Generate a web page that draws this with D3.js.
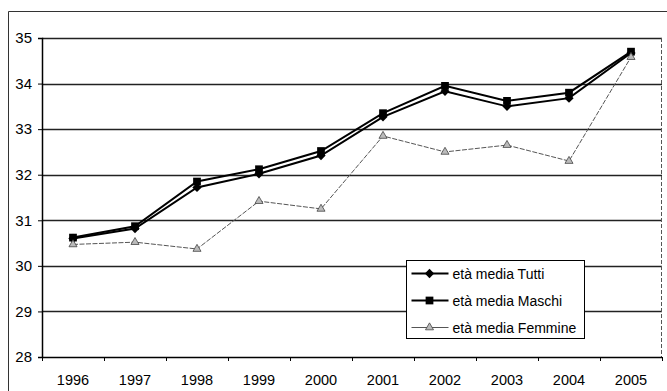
<!DOCTYPE html>
<html>
<head>
<meta charset="utf-8">
<script src="https://d3js.org/d3.v7.min.js"></script>
<style>
  body { margin: 0; background: #fff; }
  svg { display: block; font-family: "Liberation Sans", Arial, sans-serif; }
</style>
</head>
<body>
<div id="chart"></div>
<script>
var years = ["1996", "1997", "1998", "1999", "2000", "2001", "2002", "2003", "2004", "2005"];
var tutti   = [30.60, 30.82, 31.72, 32.02, 32.42, 33.27, 33.83, 33.50, 33.68, 34.67];
var maschi  = [30.62, 30.87, 31.85, 32.12, 32.52, 33.35, 33.95, 33.62, 33.80, 34.70];
var femmine = [30.47, 30.52, 30.37, 31.42, 31.25, 32.85, 32.50, 32.65, 32.30, 34.58];
var yTicks = [28, 29, 30, 31, 32, 33, 34, 35];
var seriesNames = ["età media Tutti", "età media Maschi", "età media Femmine"];

var W = 667, H = 391;
var margin = {top: 38, right: 5, bottom: 34, left: 42};
var width = W - margin.left - margin.right,
    height = H - margin.top - margin.bottom;

var svg = d3.select("#chart").append("svg")
  .attr("width", W).attr("height", H);

// outer chart frame (only top and left visible)
svg.append("path")
  .attr("d", "M8.5," + H + "V11.5H" + W)
  .attr("fill", "none").attr("stroke", "#333").attr("stroke-width", 1);

var g = svg.append("g")
  .attr("transform", "translate(" + margin.left + "," + margin.top + ")");

var x = d3.scaleBand().domain(years).range([0, width]);
var y = d3.scaleLinear().domain([28, 35]).range([height, 0]);

// gridlines
g.selectAll(".grid").data(yTicks.slice(1)).enter().append("line")
  .attr("x1", 0).attr("x2", width)
  .attr("y1", function(d) { return Math.round(y(d)) + 0.5; })
  .attr("y2", function(d) { return Math.round(y(d)) + 0.5; })
  .attr("stroke", "#222").attr("stroke-width", 1.4);

// right edge of plot area (dashed)
g.append("line")
  .attr("x1", width - 0.5).attr("x2", width - 0.5)
  .attr("y1", 0).attr("y2", height)
  .attr("stroke", "#555").attr("stroke-dasharray", "4,2");

// y axis
var yAxis = g.append("g")
  .call(d3.axisLeft(y).tickValues(yTicks).tickFormat(d3.format("d")).tickSize(4).tickPadding(6));
yAxis.select(".domain").attr("stroke", "#000").attr("stroke-width", 1.5);
yAxis.selectAll("text").attr("font-size", 15).attr("fill", "#000")
  .attr("font-family", "'Liberation Sans', Arial, sans-serif");

// x axis with ticks on band boundaries
var xAxis = g.append("g").attr("transform", "translate(0," + height + ")");
xAxis.append("line").attr("x1", 0).attr("x2", width)
  .attr("y1", 0.5).attr("y2", 0.5).attr("stroke", "#000").attr("stroke-width", 1.5);
xAxis.selectAll(".tk").data(years.concat(["end"])).enter().append("line")
  .attr("x1", function(d, i) { return i * x.bandwidth() + 0.5; })
  .attr("x2", function(d, i) { return i * x.bandwidth() + 0.5; })
  .attr("y1", 0).attr("y2", 4).attr("stroke", "#000");
xAxis.selectAll("text").data(years).enter().append("text")
  .attr("x", function(d) { return x(d) + x.bandwidth() / 2; })
  .attr("y", 28)
  .attr("text-anchor", "middle")
  .attr("font-size", 14.5)
  .text(function(d) { return d; });

function cx(i) { return x(years[i]) + x.bandwidth() / 2; }
var line = d3.line().x(function(d, i) { return cx(i); }).y(function(d) { return y(d); });

// Femmine (thin grey)
g.append("path").datum(femmine).attr("d", line)
  .attr("fill", "none").attr("stroke", "#555").attr("stroke-width", 1)
  .attr("stroke-dasharray", "5,1.5");
// Tutti & Maschi (thick black)
g.append("path").datum(tutti).attr("d", line)
  .attr("fill", "none").attr("stroke", "#000").attr("stroke-width", 2);
g.append("path").datum(maschi).attr("d", line)
  .attr("fill", "none").attr("stroke", "#000").attr("stroke-width", 2);

var diamond = d3.symbol().type(d3.symbolDiamond2).size(55);
var square = d3.symbol().type(d3.symbolSquare).size(60);
var tri = d3.symbol().type(d3.symbolTriangle).size(28);

g.selectAll(".mt").data(tutti).enter().append("path")
  .attr("transform", function(d, i) { return "translate(" + cx(i) + "," + y(d) + ")"; })
  .attr("d", diamond).attr("fill", "#000");
g.selectAll(".mm").data(maschi).enter().append("path")
  .attr("transform", function(d, i) { return "translate(" + cx(i) + "," + y(d) + ")"; })
  .attr("d", square).attr("fill", "#000");
g.selectAll(".mf").data(femmine).enter().append("path")
  .attr("transform", function(d, i) { return "translate(" + cx(i) + "," + y(d) + ")"; })
  .attr("d", tri).attr("fill", "#bbb").attr("stroke", "#444").attr("stroke-width", 0.8);

// legend
var lg = svg.append("g").attr("transform", "translate(406.5,260.5)");
lg.append("rect").attr("width", 178).attr("height", 78)
  .attr("fill", "#fff").attr("stroke", "#000");
var syms = [diamond, square, tri];
seriesNames.forEach(function(name, i) {
  var yy = 13 + i * 27;
  lg.append("line").attr("x1", 5).attr("x2", 42).attr("y1", yy).attr("y2", yy)
    .attr("stroke", i < 2 ? "#000" : "#555").attr("stroke-width", i < 2 ? 2 : 1);
  lg.append("path").attr("transform", "translate(23," + yy + ")")
    .attr("d", syms[i])
    .attr("fill", i < 2 ? "#000" : "#bbb")
    .attr("stroke", i < 2 ? "none" : "#444").attr("stroke-width", 0.8);
  lg.append("text").attr("x", 46).attr("y", yy + 5)
    .attr("font-size", 14).text(name);
});
</script>
</body>
</html>
